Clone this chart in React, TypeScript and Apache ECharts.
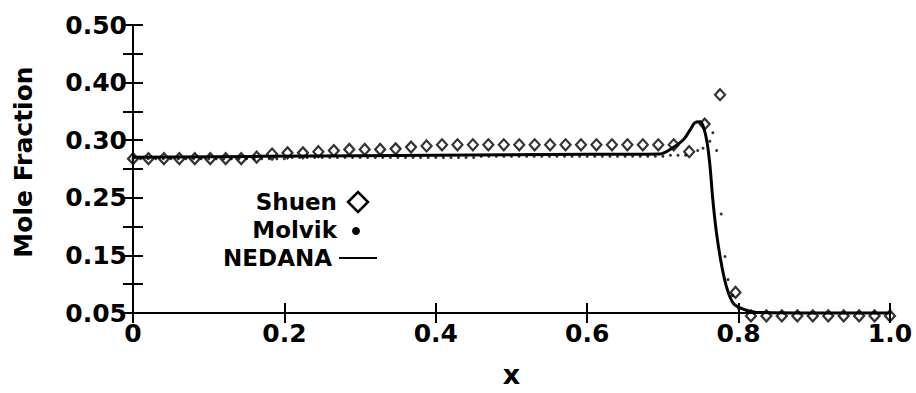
import React, { useEffect, useRef } from 'react';
import * as echarts from 'echarts';

// Printed y tick labels (evenly spaced on the figure)
const yTickValues = [0.05, 0.15, 0.25, 0.30, 0.40, 0.50];
const yTickLabels = ['0.05', '0.15', '0.25', '0.30', '0.40', '0.50'];
const xTickLabels = ['0', '0.2', '0.4', '0.6', '0.8', '1.0'];

// Shuen (open diamonds)
const shuenX = [0, 0.0204, 0.0408, 0.0612, 0.0816, 0.102, 0.1224, 0.1429, 0.1633, 0.1837,
  0.2041, 0.2245, 0.2449, 0.2653, 0.2857, 0.3061, 0.3265, 0.3469, 0.3673, 0.3878,
  0.4082, 0.4286, 0.449, 0.4694, 0.4898, 0.5102, 0.5306, 0.551, 0.5714, 0.5918,
  0.6122, 0.6327, 0.6531, 0.6735, 0.6939, 0.7143, 0.7347, 0.7551, 0.7755, 0.7959,
  0.8163, 0.8367, 0.8571, 0.8776, 0.898, 0.9184, 0.9388, 0.9592, 0.9796, 1.0];
const shuenY = [0.284, 0.284, 0.284, 0.284, 0.284, 0.284, 0.284, 0.284, 0.2853, 0.288,
  0.289, 0.289, 0.290, 0.291, 0.292, 0.292, 0.292, 0.2925, 0.294, 0.295,
  0.296, 0.296, 0.296, 0.296, 0.296, 0.296, 0.296, 0.296, 0.296, 0.296,
  0.296, 0.296, 0.296, 0.296, 0.296, 0.296, 0.290, 0.328, 0.379, 0.0857,
  0.045, 0.045, 0.045, 0.045, 0.045, 0.045, 0.045, 0.045, 0.045, 0.045];

// Molvik (small dots)
const molvikX = [0, 0.01, 0.02, 0.03, 0.04, 0.05, 0.06, 0.07, 0.08, 0.09,
  0.10, 0.11, 0.12, 0.13, 0.14, 0.15, 0.16, 0.17, 0.18, 0.19,
  0.20, 0.21, 0.22, 0.23, 0.24, 0.25, 0.26, 0.27, 0.28, 0.29,
  0.30, 0.31, 0.32, 0.33, 0.34, 0.35, 0.36, 0.37, 0.38, 0.39,
  0.40, 0.41, 0.42, 0.43, 0.44, 0.45, 0.46, 0.47, 0.48, 0.49,
  0.50, 0.51, 0.52, 0.53, 0.54, 0.55, 0.56, 0.57, 0.58, 0.59,
  0.60, 0.61, 0.62, 0.63, 0.64, 0.65, 0.66, 0.67, 0.68, 0.69,
  0.70, 0.71, 0.72, 0.73, 0.746, 0.753, 0.762, 0.766, 0.771, 0.777,
  0.782, 0.786, 0.792, 0.80, 0.82, 0.84, 0.86, 0.88, 0.90, 0.92,
  0.94, 0.96, 0.98, 1.0];
const molvikY = [0.284, 0.284, 0.284, 0.284, 0.284, 0.284, 0.284, 0.284, 0.284, 0.284,
  0.284, 0.284, 0.284, 0.284, 0.284, 0.284, 0.284, 0.284, 0.284, 0.284,
  0.284, 0.285, 0.285, 0.285, 0.285, 0.285, 0.285, 0.285, 0.285, 0.285,
  0.285, 0.285, 0.285, 0.285, 0.285, 0.285, 0.285, 0.285, 0.285, 0.285,
  0.285, 0.285, 0.285, 0.285, 0.285, 0.285, 0.286, 0.286, 0.286, 0.286,
  0.286, 0.286, 0.286, 0.286, 0.286, 0.286, 0.286, 0.286, 0.286, 0.286,
  0.286, 0.286, 0.286, 0.286, 0.286, 0.286, 0.286, 0.286, 0.286, 0.286,
  0.286, 0.287, 0.287, 0.287, 0.291, 0.293, 0.299, 0.313, 0.291, 0.222,
  0.148, 0.108, 0.080, 0.058, 0.05, 0.05, 0.05, 0.05, 0.05, 0.05,
  0.05, 0.05, 0.05, 0.05];

// NEDANA (solid line)
const nedanaX = [0, 0.3, 0.6, 0.696, 0.713, 0.727, 0.736, 0.742, 0.749, 0.753,
  0.758, 0.762, 0.766, 0.771, 0.778, 0.785, 0.793, 0.806, 0.824, 0.9, 1.0];
const nedanaY = [0.2853, 0.2865, 0.2878, 0.2881, 0.2934, 0.3007, 0.318, 0.330, 0.332, 0.325,
  0.2996, 0.279, 0.246, 0.187, 0.130, 0.091, 0.067, 0.0566, 0.051, 0.05, 0.05];

// position on the (evenly spaced) printed tick scale
function toAxis(v: number): number {
  let i = 0;
  while (i < yTickValues.length - 2 && v > yTickValues[i + 1]) i++;
  const a = yTickValues[i];
  const b = yTickValues[i + 1];
  return i + (v - a) / (b - a);
}

const FONT = 'DejaVu Sans';

export default function App() {
  const ref = useRef<HTMLDivElement>(null);
  useEffect(() => {
    if (!ref.current) return;
    const chart = echarts.init(ref.current, undefined, { renderer: 'svg' });
    const axisLine = { show: true, lineStyle: { color: '#000', width: 2 } };
    const tick = { show: true, inside: true, length: 10, lineStyle: { color: '#000', width: 2 } };
    const labelFont = { fontFamily: FONT, fontWeight: 'bold' as const, fontSize: 25, color: '#000' };
    const yLabel = (v: number) => (Math.abs(v - Math.round(v)) < 1e-6 ? yTickLabels[Math.round(v)] : '');
    chart.setOption({
      animation: false,
      backgroundColor: '#fff',
      grid: { left: 133, right: 26, top: 25, bottom: 78 },
      xAxis: [
        {
          type: 'value', min: 0, max: 1, interval: 0.2, position: 'bottom',
          axisLine, axisTick: tick, splitLine: { show: false },
          axisLabel: { ...labelFont, margin: 8, formatter: (v: number) => xTickLabels[Math.round(v / 0.2)] },
          name: 'x', nameLocation: 'middle', nameGap: 48,
          nameTextStyle: { fontFamily: FONT, fontWeight: 'bold', fontSize: 27, color: '#000' },
        },
        {
          type: 'value', min: 0, max: 1, interval: 0.2, position: 'top',
          axisLine, axisTick: tick, splitLine: { show: false }, axisLabel: { show: false },
        },
      ],
      yAxis: [
        {
          type: 'value', min: 0, max: 5, interval: 0.5, position: 'left',
          axisLine, axisTick: tick, splitLine: { show: false },
          axisLabel: { ...labelFont, margin: 6, formatter: yLabel },
        },
        {
          type: 'value', min: 0, max: 5, interval: 0.5, position: 'right',
          axisLine, axisTick: tick, splitLine: { show: false }, axisLabel: { show: false },
        },
      ],
      series: [
        {
          name: 'NEDANA', type: 'line', clip: false, showSymbol: false, smooth: 0.3,
          data: nedanaX.map((x, i) => [x, toAxis(nedanaY[i])]),
          lineStyle: { color: '#000', width: 3 },
        },
        {
          name: 'Molvik', type: 'scatter', clip: false, symbol: 'circle', symbolSize: 3,
          data: molvikX.map((x, i) => [x, toAxis(molvikY[i])]),
          itemStyle: { color: '#000' },
        },
        {
          name: 'Shuen', type: 'scatter', clip: false, symbol: 'diamond', symbolSize: [10, 11],
          data: shuenX.map((x, i) => [x, toAxis(shuenY[i])]),
          itemStyle: { color: 'rgba(0,0,0,0)', borderColor: '#000', borderWidth: 2.2 },
        },
      ],
      graphic: [
        { type: 'text', x: 23, y: 162, rotation: Math.PI / 2, style: { text: 'Mole Fraction', align: 'center', verticalAlign: 'middle', fontFamily: FONT, fontWeight: 'bold', fontSize: 25, fill: '#000' } },
        { type: 'text', x: 337, y: 202, style: { text: 'Shuen', align: 'right', verticalAlign: 'middle', fontFamily: FONT, fontWeight: 'bold', fontSize: 23, fill: '#000' } },
        { type: 'text', x: 337, y: 230, style: { text: 'Molvik', align: 'right', verticalAlign: 'middle', fontFamily: FONT, fontWeight: 'bold', fontSize: 23, fill: '#000' } },
        { type: 'text', x: 332, y: 258, style: { text: 'NEDANA', align: 'right', verticalAlign: 'middle', fontFamily: FONT, fontWeight: 'bold', fontSize: 23, fill: '#000' } },
        { type: 'polygon', shape: { points: [[348, 202], [358, 192], [368, 202], [358, 212]] }, style: { fill: 'none', stroke: '#000', lineWidth: 2.5 } },
        { type: 'circle', shape: { cx: 356, cy: 231, r: 4 }, style: { fill: '#000' } },
        { type: 'line', shape: { x1: 339, y1: 258, x2: 377, y2: 258 }, style: { stroke: '#000', lineWidth: 2 } },
      ],
    });
    return () => chart.dispose();
  }, []);
  return (
    <div
      ref={ref}
      style={{ position: 'fixed', left: 0, top: 0, width: 916, height: 393, background: '#fff' }}
    />
  );
}
